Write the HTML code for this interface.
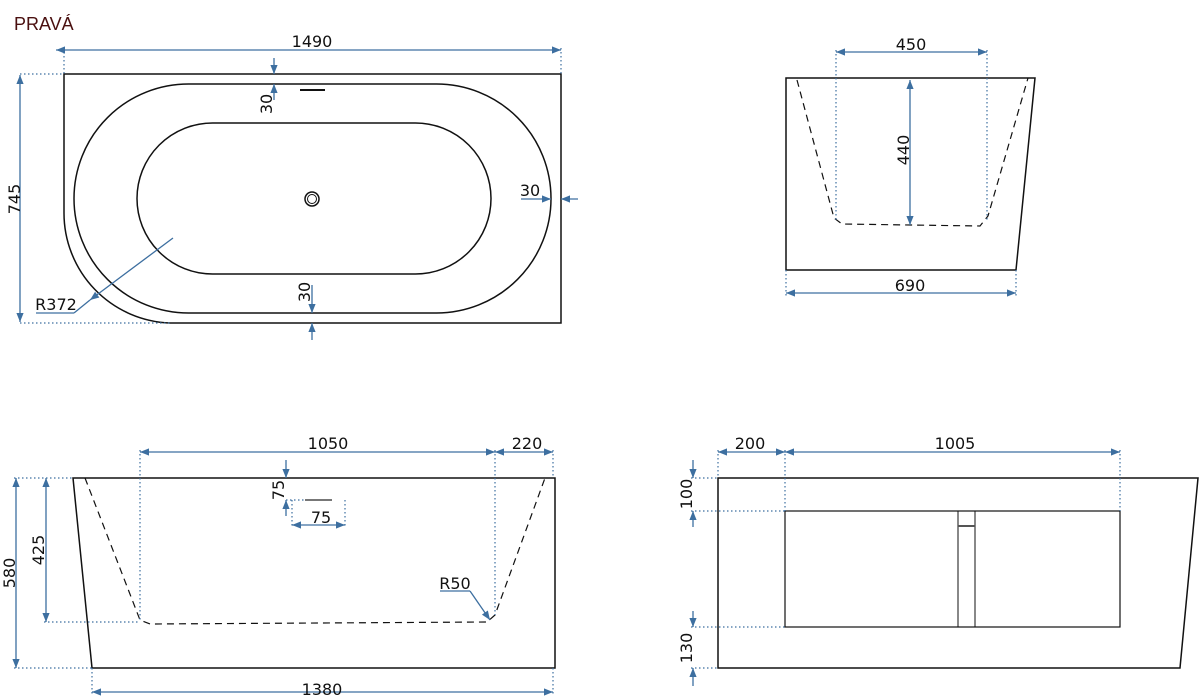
<!DOCTYPE html>
<html><head><meta charset="utf-8"><style>html,body{margin:0;padding:0;background:#fff}svg{display:block}</style></head><body>
<svg width="1200" height="699" viewBox="0 0 1200 699" xmlns="http://www.w3.org/2000/svg" font-family="'DejaVu Sans','Liberation Sans',sans-serif">
<defs>
<marker id="a" viewBox="0 0 10 10" refX="10" refY="5" markerWidth="13" markerHeight="9" orient="auto-start-reverse" markerUnits="userSpaceOnUse"><path d="M0,1 L10,5 L0,9 Z" fill="#3d6fa0"/></marker>
</defs>
<text x="14" y="30" font-size="18" fill="#4a1010" font-family="'Liberation Sans',sans-serif">PRAVÁ</text>
<g fill="none" stroke="#111" stroke-width="1.5">
<path d="M64,74 H561 V323 H170 A110 110 0 0 1 64,213 Z"/>
<rect x="74" y="84" width="477" height="229" rx="114.5"/>
<rect x="137" y="123" width="354" height="151" rx="75.5"/>
<circle cx="312" cy="199" r="7"/><circle cx="312" cy="199" r="4.5" stroke-width="1"/>
<line x1="300" y1="90" x2="325" y2="90" stroke-width="2"/>
<path d="M786,78 H1035 L1016,270 H786 Z"/>
<path d="M73,478 H555 V668 H92 Z"/>
<path d="M718,478 H1198 L1180,668 H718 Z"/>
<rect x="785" y="511" width="335" height="116" stroke-width="1.2"/>
<rect x="958" y="511" width="17" height="116" stroke-width="1"/>
<line x1="958" y1="526" x2="975" y2="526" stroke-width="2" stroke="#555"/>
<line x1="305" y1="500" x2="332" y2="500" stroke-width="2" stroke="#777"/>
</g>
<g fill="none" stroke="#111" stroke-width="1.2" stroke-dasharray="7,5">
<path d="M797,80 L834,218 L842,224 L980,226 L988,216 L1028,78"/>
<path d="M85,478 L140,620 L150,624 L487,622 L495,615 L545,478"/>
</g>
<g fill="none" stroke="#3d6fa0" stroke-width="1.2" stroke-dasharray="1.5,2.5">
<line x1="64" y1="48" x2="64" y2="74"/><line x1="561" y1="48" x2="561" y2="74"/>
<line x1="20" y1="74" x2="64" y2="74"/><line x1="20" y1="323" x2="170" y2="323"/>
<line x1="836" y1="50" x2="836" y2="220"/><line x1="987" y1="50" x2="987" y2="220"/>
<line x1="786" y1="270" x2="786" y2="298"/><line x1="1016" y1="270" x2="1016" y2="298"/>
<line x1="140" y1="450" x2="140" y2="622"/><line x1="495" y1="450" x2="495" y2="615"/><line x1="553" y1="450" x2="553" y2="478"/>
<line x1="14" y1="478" x2="73" y2="478"/><line x1="14" y1="668" x2="92" y2="668"/><line x1="44" y1="622" x2="140" y2="622"/>
<line x1="92" y1="668" x2="92" y2="696"/><line x1="553" y1="668" x2="553" y2="696"/>
<line x1="286" y1="500" x2="305" y2="500"/><line x1="292" y1="500" x2="292" y2="527"/><line x1="345" y1="500" x2="345" y2="527"/>
<line x1="718" y1="450" x2="718" y2="478"/><line x1="785" y1="450" x2="785" y2="511"/><line x1="1120" y1="450" x2="1120" y2="511"/>
<line x1="691" y1="478" x2="718" y2="478"/><line x1="691" y1="511" x2="785" y2="511"/><line x1="691" y1="627" x2="785" y2="627"/><line x1="691" y1="668" x2="718" y2="668"/>
</g>
<g stroke="#3d6fa0" stroke-width="1.3" fill="none">
<line x1="56" y1="50" x2="561" y2="50" marker-start="url(#a)" marker-end="url(#a)"/>
<line x1="20" y1="75" x2="20" y2="322" marker-start="url(#a)" marker-end="url(#a)"/>
<line x1="274" y1="58" x2="274" y2="74" marker-end="url(#a)"/><line x1="274" y1="100" x2="274" y2="84" marker-end="url(#a)"/>
<line x1="312" y1="285" x2="312" y2="313" marker-end="url(#a)"/><line x1="312" y1="340" x2="312" y2="323" marker-end="url(#a)"/>
<line x1="521" y1="199" x2="551" y2="199" marker-end="url(#a)"/><line x1="578" y1="199" x2="561" y2="199" marker-end="url(#a)"/>
<line x1="173" y1="238" x2="90" y2="300" marker-end="url(#a)"/><line x1="90" y1="300" x2="74" y2="313"/><line x1="36" y1="313" x2="74" y2="313"/>
<line x1="836" y1="52" x2="987" y2="52" marker-start="url(#a)" marker-end="url(#a)"/>
<line x1="910" y1="80" x2="910" y2="225" marker-start="url(#a)" marker-end="url(#a)"/>
<line x1="786" y1="293" x2="1016" y2="293" marker-start="url(#a)" marker-end="url(#a)"/>
<line x1="140" y1="452" x2="495" y2="452" marker-start="url(#a)" marker-end="url(#a)"/>
<line x1="495" y1="452" x2="553" y2="452" marker-start="url(#a)" marker-end="url(#a)"/>
<line x1="16" y1="478" x2="16" y2="668" marker-start="url(#a)" marker-end="url(#a)"/>
<line x1="46" y1="478" x2="46" y2="622" marker-start="url(#a)" marker-end="url(#a)"/>
<line x1="92" y1="692" x2="553" y2="692" marker-start="url(#a)" marker-end="url(#a)"/>
<line x1="286" y1="460" x2="286" y2="478" marker-end="url(#a)"/><line x1="286" y1="516" x2="286" y2="500" marker-end="url(#a)"/>
<line x1="292" y1="525" x2="345" y2="525" marker-start="url(#a)" marker-end="url(#a)"/>
<line x1="440" y1="591" x2="470" y2="591"/><line x1="470" y1="591" x2="490" y2="620" marker-end="url(#a)"/>
<line x1="718" y1="452" x2="785" y2="452" marker-start="url(#a)" marker-end="url(#a)"/>
<line x1="785" y1="452" x2="1120" y2="452" marker-start="url(#a)" marker-end="url(#a)"/>
<line x1="693" y1="460" x2="693" y2="478" marker-end="url(#a)"/><line x1="693" y1="527" x2="693" y2="511" marker-end="url(#a)"/>
<line x1="693" y1="611" x2="693" y2="627" marker-end="url(#a)"/><line x1="693" y1="686" x2="693" y2="668" marker-end="url(#a)"/>
</g>
<g font-size="16" fill="#111" text-anchor="middle">
<text x="312" y="47">1490</text>
<text x="0" y="0" transform="translate(20,199) rotate(-90)">745</text>
<text x="0" y="0" transform="translate(272,104) rotate(-90)">30</text>
<text x="0" y="0" transform="translate(310,292) rotate(-90)">30</text>
<text x="530" y="196">30</text>
<text x="56" y="310">R372</text>
<text x="911" y="50">450</text>
<text x="0" y="0" transform="translate(909,150) rotate(-90)">440</text>
<text x="910" y="291">690</text>
<text x="328" y="449">1050</text>
<text x="527" y="449">220</text>
<text x="0" y="0" transform="translate(15,573) rotate(-90)">580</text>
<text x="0" y="0" transform="translate(44,550) rotate(-90)">425</text>
<text x="322" y="695">1380</text>
<text x="0" y="0" transform="translate(284,490) rotate(-90)">75</text>
<text x="321" y="523">75</text>
<text x="455" y="589">R50</text>
<text x="750" y="449">200</text>
<text x="955" y="449">1005</text>
<text x="0" y="0" transform="translate(692,494) rotate(-90)">100</text>
<text x="0" y="0" transform="translate(692,648) rotate(-90)">130</text>
</g>
</svg>
</body></html>
